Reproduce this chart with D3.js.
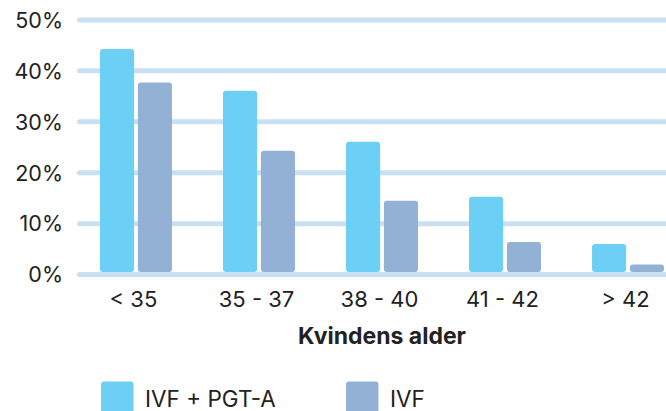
<!DOCTYPE html>
<html>
<head>
<meta charset="utf-8">
<script src="https://cdn.jsdelivr.net/npm/d3@7"></script>
<style>
  html, body { margin: 0; padding: 0; background: #fff; }
  svg { display: block; font-family: Inter, "Noto Sans", sans-serif; }
</style>
</head>
<body>
<div id="chart"></div>
<script>
// Data
var categories = ["< 35", "35 - 37", "38 - 40", "41 - 42", "> 42"];
var seriesNames = ["IVF + PGT-A", "IVF"];
var pgtaValues = [44.3, 36.1, 26.1, 15.3, 6];
var ivfValues = [37.7, 24.3, 14.5, 6.4, 2];
var yTicks = [0, 10, 20, 30, 40, 50];

var colors = ["#6bcff6", "#93b1d5"];
var w = 666, h = 411;

var svg = d3.select("#chart").append("svg")
    .attr("width", w)
    .attr("height", h);

// scales
var x0 = d3.scaleBand()
    .domain(categories)
    .range([100, 664])
    .paddingInner(0.415)
    .paddingOuter(0);

var x1 = d3.scaleBand()
    .domain(seriesNames)
    .range([0, x0.bandwidth()])
    .paddingInner(0.1);

var y = d3.scaleLinear()
    .domain([0, 50])
    .range([274.6, 19.9]);

// gridlines
svg.append("g")
    .selectAll("line")
    .data(yTicks)
    .enter()
    .append("line")
    .attr("x1", 79.5)
    .attr("x2", w + 5)
    .attr("y1", function(d) { return y(d); })
    .attr("y2", function(d) { return y(d); })
    .attr("stroke", "#c9e0f3")
    .attr("stroke-width", 5)
    .attr("stroke-linecap", "round");

// y labels
svg.append("g")
    .selectAll("text")
    .data(yTicks)
    .enter()
    .append("text")
    .attr("x", 63)
    .attr("y", function(d) { return y(d) + 7.8; })
    .attr("text-anchor", "end")
    .attr("font-size", 21.5)
    .attr("fill", "#222")
    .text(function(d) { return d + "%"; });

// bars
var rows = categories.map(function(c, i) {
    return { cat: c, vals: [pgtaValues[i], ivfValues[i]] };
});

var groups = svg.append("g")
    .selectAll("g")
    .data(rows)
    .enter()
    .append("g")
    .attr("transform", function(d) { return "translate(" + x0(d.cat) + ",0)"; });

groups.selectAll("rect")
    .data(function(d) { return d.vals.map(function(v, j) { return { s: seriesNames[j], v: v, j: j }; }); })
    .enter()
    .append("rect")
    .attr("x", function(d) { return x1(d.s); })
    .attr("y", function(d) { return y(d.v); })
    .attr("width", x1.bandwidth())
    .attr("height", function(d) { return Math.max(0, y(0) - 2.6 - y(d.v)); })
    .attr("rx", 3)
    .attr("fill", function(d) { return colors[d.j]; });

// x labels
svg.append("g")
    .selectAll("text")
    .data(categories)
    .enter()
    .append("text")
    .attr("x", function(d) { return x0(d) + x0.bandwidth() / 2 - 2.5; })
    .attr("y", 307)
    .attr("text-anchor", "middle")
    .attr("font-size", 22)
    .attr("fill", "#222")
    .text(function(d) { return d; });

// axis title
svg.append("text")
    .attr("x", 382)
    .attr("y", 343.5)
    .attr("text-anchor", "middle")
    .attr("font-size", 23)
    .attr("font-weight", "bold")
    .attr("fill", "#222")
    .text("Kvindens alder");

// legend
var legendX = [101, 346];
var legend = svg.append("g")
    .selectAll("g")
    .data(seriesNames)
    .enter()
    .append("g")
    .attr("transform", function(d, i) { return "translate(" + legendX[i] + ",381.5)"; });

legend.append("rect")
    .attr("width", 32.5)
    .attr("height", 40)
    .attr("rx", 3)
    .attr("fill", function(d, i) { return colors[i]; });

legend.append("text")
    .attr("x", 44)
    .attr("y", 25.5)
    .attr("font-size", 22.5)
    .attr("fill", "#222")
    .text(function(d) { return d; });
</script>
</body>
</html>
